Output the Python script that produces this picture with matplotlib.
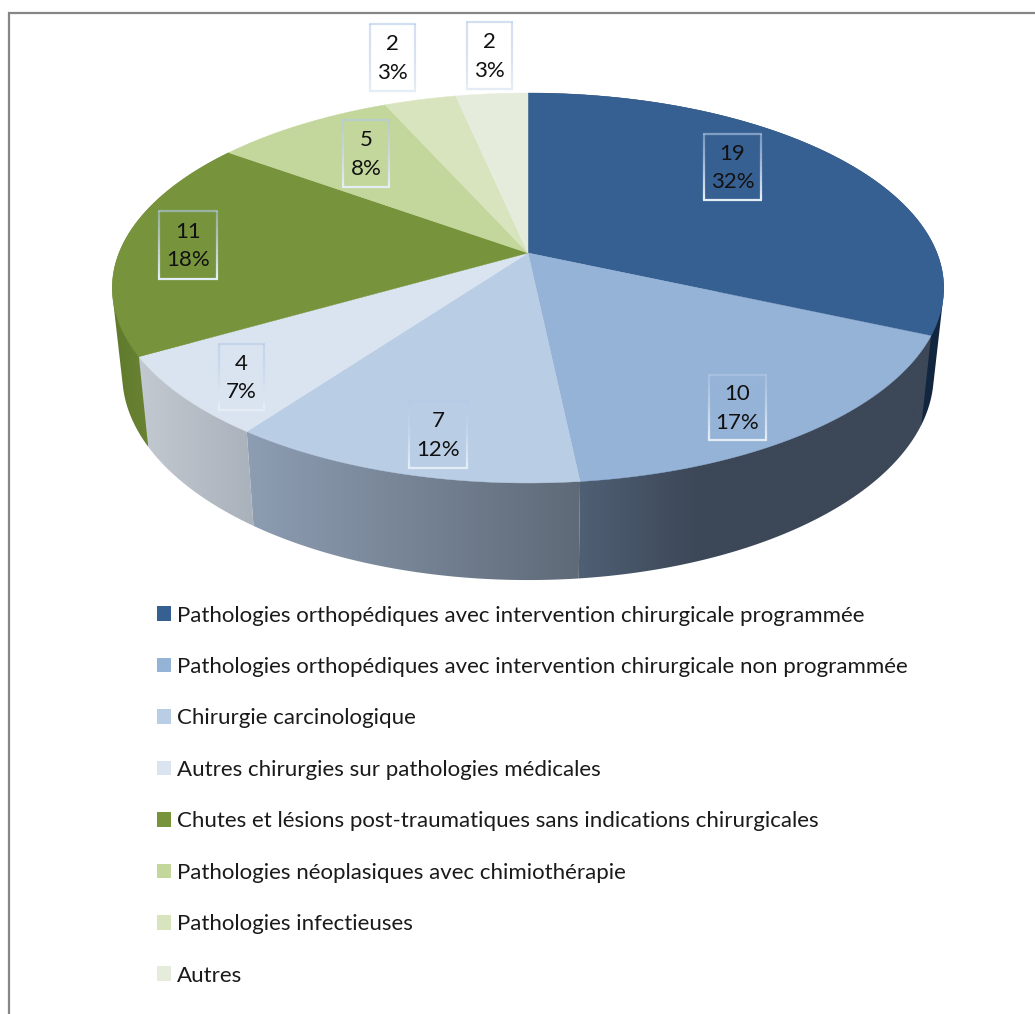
import numpy as np
import matplotlib
matplotlib.use("Agg")
import matplotlib.pyplot as plt
from matplotlib.collections import LineCollection
from matplotlib.colors import to_rgb
from matplotlib.patches import Patch, Polygon

categories = [
    "Pathologies orthopédiques avec intervention chirurgicale programmée",
    "Pathologies orthopédiques avec intervention chirurgicale non programmée",
    "Chirurgie carcinologique",
    "Autres chirurgies sur pathologies médicales",
    "Chutes et lésions post-traumatiques sans indications chirurgicales",
    "Pathologies néoplasiques avec chimiothérapie",
    "Pathologies infectieuses",
    "Autres",
]
values = [19, 10, 7, 4, 11, 5, 2, 2]
top_colors = ["#376092", "#95B3D7", "#B9CDE5", "#DAE4F0",
              "#77933C", "#C3D69B", "#D7E4BD", "#E6ECDB"]
# side wall shading: (x pixel, colour) stops for the wedges that show a wall
side_stops = {
    0: [(900, "#12263F"), (950, "#12263F")],
    4: [(113, "#5F7A2C"), (148, "#6A8232")],
    1: [(580, "#4F5F74"), (700, "#3C4757"), (935, "#3C4757")],
    2: [(247, "#8D9DB2"), (578, "#5F6A78")],
    3: [(139, "#C3C9D0"), (254, "#A9B1BB")],
}
# data label boxes in pixels: left, right, top, bottom
label_boxes = [(704, 761, 134, 200), (709, 766, 375, 440), (409, 467, 401, 468),
               (219, 264, 344, 410), (159, 217, 211, 279), (343, 389, 120, 187),
               (370, 415, 24, 91), (467, 512, 22, 89)]

W, H = 1035, 1014
plt.rcParams["font.family"] = ["Lato", "DejaVu Sans"]
fig = plt.figure(figsize=(W / 100, H / 100), dpi=100)
ax = fig.add_axes([0, 0, 1, 1])
ax.axis("off")

# chart frame
ax.plot([8.5, 8.5, W], [H, 12.5, 12.5], color="#868686", lw=1.6, solid_joinstyle="miter")

# perspective projection of the pie disc
CX, CY, A, B, K = 528.0, 253.0, 409.0, 188.7, 0.1795


def top_rim(theta):
    X, Y = np.sin(theta), -np.cos(theta)
    d = 1 - K * Y
    return CX + A * X / d, CY + B * Y / d


def bottom_rim(theta):
    x, y = top_rim(theta)
    return CX + 0.976 * (x - CX), 1.055 * y + 70.5


def convex_hull(points):
    pts = sorted(set(map(tuple, points)))

    def half(seq):
        out = []
        for p in seq:
            while len(out) >= 2 and ((out[-1][0] - out[-2][0]) * (p[1] - out[-2][1])
                                     - (out[-1][1] - out[-2][1]) * (p[0] - out[-2][0])) <= 0:
                out.pop()
            out.append(p)
        return out[:-1]

    return np.array(half(pts) + half(pts[::-1]))


total = sum(values)
edges = 2 * np.pi * np.concatenate([[0], np.cumsum(values)]) / total

# side walls: horizontal gradient clipped to the wall outline
for order, (i, stops) in enumerate(side_stops.items()):
    t = np.linspace(edges[i], edges[i + 1], 200)
    xt, yt = top_rim(t)
    xb, yb = bottom_rim(t)
    pts = convex_hull(np.column_stack([np.r_[xt, xb], np.r_[yt, yb]]))
    x0, x1 = pts[:, 0].min() - 2, pts[:, 0].max() + 2
    y0, y1 = pts[:, 1].min() - 2, pts[:, 1].max() + 2
    xs = np.linspace(x0, x1, 256)
    sx = [s[0] for s in stops]
    rgb = np.array([to_rgb(s[1]) for s in stops])
    grad = np.stack([np.interp(xs, sx, rgb[:, c]) for c in range(3)], axis=-1)[None, :, :]
    im = ax.imshow(grad, extent=(x0, x1, y1, y0), aspect="auto",
                   interpolation="bilinear", zorder=1 + order * 0.1)
    clip = Polygon(pts, closed=True, transform=ax.transData)
    im.set_clip_path(clip)

# top faces
for i, col in enumerate(top_colors):
    t = np.linspace(edges[i], edges[i + 1], 120)
    xt, yt = top_rim(t)
    pts = np.column_stack([np.r_[CX, xt], np.r_[CY, yt]])
    ax.add_patch(Polygon(pts, closed=True, facecolor=col, edgecolor=col, lw=0.3, zorder=2))

ax.set_xlim(0, W)
ax.set_ylim(H, 0)

FS = 16.05
# data labels with gradient borders
c_top, c_bot = np.array(to_rgb("#B4CAE8")), np.array(to_rgb("#E4ECF6"))
for v, (l, r, tp, bt) in zip(values, label_boxes):
    n = 14
    ys = np.linspace(tp, bt, n + 1)
    segs, cols = [], []
    for j in range(n):
        f = j / (n - 1)
        alpha = 0.55 + 0.45 * f
        cc = tuple(c_top * (1 - f) + c_bot * f) + (alpha,)
        segs += [[(l, ys[j]), (l, ys[j + 1])], [(r, ys[j]), (r, ys[j + 1])]]
        cols += [cc, cc]
    segs += [[(l - 1, tp), (r + 1, tp)], [(l - 1, bt), (r + 1, bt)]]
    cols += [tuple(c_top) + (0.6,), tuple(c_bot) + (1.0,)]
    ax.add_collection(LineCollection(segs, colors=cols, linewidths=1.6, capstyle="butt", zorder=3))
    ax.text((l + r) / 2, (tp + bt) / 2 + 1, f"{v}\n{round(100 * v / total)}%",
            ha="center", va="center", fontsize=FS, color="#111111", linespacing=1.55, zorder=4)

# legend
handles = [Patch(facecolor=c, edgecolor="none") for c in top_colors]
ax.legend(handles, categories, loc="upper left", bbox_to_anchor=(157 / W, 1 - 605.5 / H),
          bbox_transform=ax.transAxes, frameon=False, fontsize=FS, borderpad=0, borderaxespad=0,
          handlelength=0.63, handleheight=0.63, handletextpad=0.27, labelspacing=1.41,
          labelcolor="#1a1a1a")

fig.savefig("out.png", dpi=100, facecolor="white")
